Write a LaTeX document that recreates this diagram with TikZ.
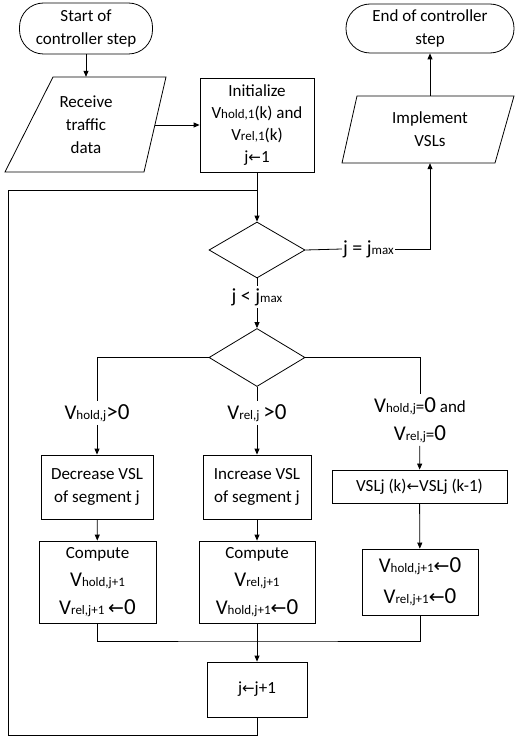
\documentclass[tikz,border=0pt]{standalone}
\usepackage{fontspec}
\setmainfont{Carlito}
\newfontfamily\dejavu{DejaVu Sans}
\usetikzlibrary{arrows.meta,shapes.geometric}
\newcommand{\lft}{{\dejavu\fontsize{15}{15}\selectfont ←}}
\newcommand{\bigV}{{\fontsize{21}{21}\selectfont V}}
\newcommand{\subx}[1]{{\fontsize{13}{13}\selectfont #1}}
\newcommand{\bigz}{{\fontsize{23}{23}\selectfont 0}}
\newcommand{\biggt}{{\fontsize{23}{23}\selectfont >}}
\newcommand{\bigarr}{{\dejavu\fontsize{19}{19}\selectfont ←}}
\begin{document}
\begin{tikzpicture}[x=1pt,y=-1pt,
  every node/.style={font=\fontsize{17}{23}\selectfont, align=center, inner sep=1pt},
  line/.style={draw, line width=0.8pt},
  arr/.style={line, -{Triangle[length=6pt,width=5pt]}},
  boxx/.style={draw, line width=0.8pt, rectangle, inner sep=0pt},
  term/.style={draw, line width=0.8pt, rectangle, rounded corners=24pt, inner sep=0pt},
  dia/.style={draw, line width=0.8pt, diamond, inner sep=0pt},
  lab/.style={inner sep=3pt}]
\useasboundingbox (0,0) rectangle (515,741);
% terminals
\node[term, minimum width=133pt, minimum height=51pt] (start) at (86,28.5) {Start of\\controller step};
\node[term, minimum width=168pt, minimum height=49pt] (end) at (430,28.5) {End of controller\\step};
% parallelograms
\draw[line width=0.8pt] (53,77) -- (166,77) -- (144,172) -- (5,172) -- cycle;
\node[minimum width=100pt, minimum height=95pt, inner sep=0pt] (recv) at (86,124.5) {Receive\\traffic\\data};
\coordinate (recvE) at (155,125);
\draw[line width=0.8pt] (357,96) -- (514,96) -- (495,163) -- (342,163) -- cycle;
\node[minimum width=120pt, minimum height=67pt, inner sep=0pt] (impl) at (430,129.5) {Implement\\VSLs};
% init
\node[boxx, minimum width=114pt, minimum height=94pt, font=\fontsize{17}{22}\selectfont] (init) at (257,125)
  {Initialize\\V\subx{hold,1}(k) and\\V\subx{rel,1}(k)\\j\lft1};
% diamonds
\node[dia, minimum width=96pt, minimum height=56pt] (d1) at (257,250) {};
\node[lab, inner sep=1pt, font=\fontsize{20}{20}\selectfont] (eq) at (368.5,249) {j = j\subx{max}};
\node[lab, inner sep=2pt, font=\fontsize{20}{20}\selectfont] (lt) at (257,297) {j {\textless} j\subx{max}};
\node[dia, minimum width=96pt, minimum height=58pt] (d2) at (257,357.5) {};
% branch labels
\node[lab] (lab1) at (97,413) {\bigV\subx{hold,j}\biggt\bigz};
\node[lab] (lab2) at (257,413) {\bigV\subx{rel,j} \biggt\bigz};
\node[lab, font=\fontsize{17}{28}\selectfont] (lab3) at (420,420) {\bigV\subx{hold,j}=\bigz{} and\\\bigV\subx{rel,j}=\bigz};
% process boxes
\node[boxx, minimum width=112pt, minimum height=64pt] (dec) at (97,487) {Decrease VSL\\of segment j};
\node[boxx, minimum width=108pt, minimum height=64pt] (inc) at (257,487) {Increase VSL\\of segment j};
\node[boxx, minimum width=175pt, minimum height=33pt, font=\fontsize{17}{20}\selectfont] (vsl) at (419.5,486.5) {VSLj (k)\lft VSLj (k-1)};
\node[boxx, minimum width=117pt, minimum height=82pt, font=\fontsize{17}{28}\selectfont] (c1) at (97.5,582)
  {Compute\\\bigV\subx{hold,j+1}\\\bigV\subx{rel,j+1} \bigarr\bigz};
\node[boxx, minimum width=116pt, minimum height=82pt, font=\fontsize{17}{28}\selectfont] (c2) at (257,582)
  {Compute\\\bigV\subx{rel,j+1}\\\bigV\subx{hold,j+1}\bigarr\bigz};
\node[boxx, minimum width=116pt, minimum height=66pt, font=\fontsize{17}{31}\selectfont] (c3) at (420,582)
  {\bigV\subx{hold,j+1}\bigarr\bigz\\\bigV\subx{rel,j+1}\bigarr\bigz};
\node[boxx, minimum width=100pt, minimum height=55pt] (jj) at (257,689.5) {j\lft j+1};
% connectors
\coordinate (loopJ) at (257,190);
\coordinate (merge) at (257,641);
\draw[arr] (start) -- (recv);
\draw[arr] (recvE) -- (init.west |- recvE);
\draw[arr] (init) -- (d1);
\draw[line] (jj.south) -- ++(0,18) -| (8,190) -- (loopJ);
\draw[line] (d1.east) -- (eq.west);
\draw[arr] (eq.east) -| (impl.south);
\draw[arr] (impl) -- (end);
\draw[line] (d1.south) -- (lt.north);
\draw[arr] (lt) -- (d2);
\draw[line] (d2.west) -| (lab1.north);
\draw[arr] (lab1) -- (dec);
\draw[line] (d2.south) -- (lab2.north);
\draw[arr] (lab2) -- (inc);
\draw[line] (d2.east) -| (lab3.north);
\draw[arr] (lab3) -- (vsl);
\draw[arr] (dec) -- (c1);
\draw[arr] (inc) -- (c2);
\draw[arr] (vsl) -- (c3);
\draw[line] (c1.south) |- (merge) -| (c3.south);
\draw[arr] (c2) -- (jj);
\end{tikzpicture}
\end{document}
